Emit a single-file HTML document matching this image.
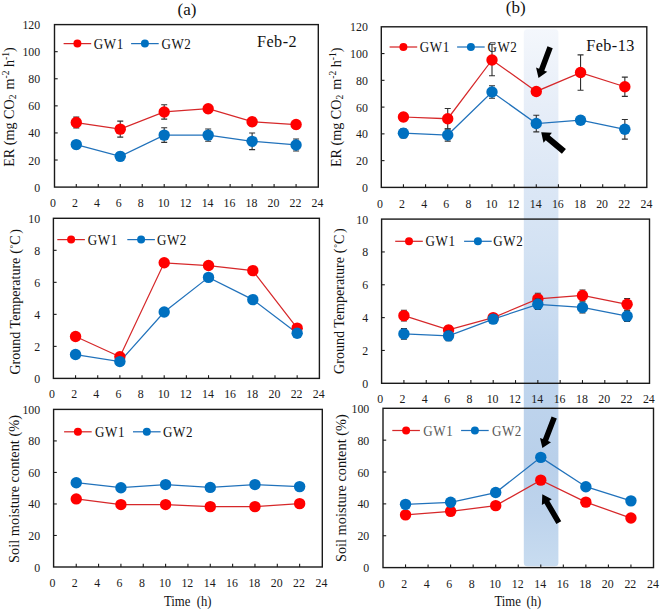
<!DOCTYPE html>
<html><head><meta charset="utf-8"><title>Figure</title>
<style>html,body{margin:0;padding:0;background:#fff;}body{width:660px;height:611px;overflow:hidden;font-family:"Liberation Serif",serif;}svg{display:block;}</style>
</head><body>
<svg width="660" height="611" viewBox="0 0 660 611">
<defs><linearGradient id="bandg" x1="0" y1="29" x2="0" y2="566" gradientUnits="userSpaceOnUse">
<stop offset="0" stop-color="#f4f7fc"/>
<stop offset="0.14" stop-color="#e7eef8"/>
<stop offset="0.31" stop-color="#dae6f5"/>
<stop offset="0.41" stop-color="#d3e2f3"/>
<stop offset="0.6" stop-color="#c2d7ef"/>
<stop offset="0.8" stop-color="#b9d0ea"/>
<stop offset="0.9" stop-color="#bdd3ec"/>
<stop offset="1" stop-color="#c8dcf0"/>
</linearGradient></defs>
<rect width="660" height="611" fill="#fff"/>
<rect x="523.8" y="29.2" width="34.6" height="537" rx="3.5" ry="3.5" fill="url(#bandg)"/>
<rect x="54.50" y="24.60" width="263.80" height="162.50" fill="none" stroke="#1a1a1a" stroke-width="1.4"/>
<line x1="76.28" y1="187.10" x2="76.28" y2="183.90" stroke="#1a1a1a" stroke-width="1.1"/>
<line x1="98.26" y1="187.10" x2="98.26" y2="183.90" stroke="#1a1a1a" stroke-width="1.1"/>
<line x1="120.24" y1="187.10" x2="120.24" y2="183.90" stroke="#1a1a1a" stroke-width="1.1"/>
<line x1="142.22" y1="187.10" x2="142.22" y2="183.90" stroke="#1a1a1a" stroke-width="1.1"/>
<line x1="164.20" y1="187.10" x2="164.20" y2="183.90" stroke="#1a1a1a" stroke-width="1.1"/>
<line x1="186.18" y1="187.10" x2="186.18" y2="183.90" stroke="#1a1a1a" stroke-width="1.1"/>
<line x1="208.16" y1="187.10" x2="208.16" y2="183.90" stroke="#1a1a1a" stroke-width="1.1"/>
<line x1="230.14" y1="187.10" x2="230.14" y2="183.90" stroke="#1a1a1a" stroke-width="1.1"/>
<line x1="252.12" y1="187.10" x2="252.12" y2="183.90" stroke="#1a1a1a" stroke-width="1.1"/>
<line x1="274.10" y1="187.10" x2="274.10" y2="183.90" stroke="#1a1a1a" stroke-width="1.1"/>
<line x1="296.08" y1="187.10" x2="296.08" y2="183.90" stroke="#1a1a1a" stroke-width="1.1"/>
<line x1="54.50" y1="160.02" x2="57.70" y2="160.02" stroke="#1a1a1a" stroke-width="1.1"/>
<line x1="54.50" y1="132.93" x2="57.70" y2="132.93" stroke="#1a1a1a" stroke-width="1.1"/>
<line x1="54.50" y1="105.85" x2="57.70" y2="105.85" stroke="#1a1a1a" stroke-width="1.1"/>
<line x1="54.50" y1="78.77" x2="57.70" y2="78.77" stroke="#1a1a1a" stroke-width="1.1"/>
<line x1="54.50" y1="51.68" x2="57.70" y2="51.68" stroke="#1a1a1a" stroke-width="1.1"/>
<text transform="translate(52.90 207.20) scale(0.900 1)" font-size="13.20" text-anchor="middle" font-family='"Liberation Serif", serif' fill="#1a1a1a">0</text>
<text transform="translate(74.88 207.20) scale(0.900 1)" font-size="13.20" text-anchor="middle" font-family='"Liberation Serif", serif' fill="#1a1a1a">2</text>
<text transform="translate(96.86 207.20) scale(0.900 1)" font-size="13.20" text-anchor="middle" font-family='"Liberation Serif", serif' fill="#1a1a1a">4</text>
<text transform="translate(118.84 207.20) scale(0.900 1)" font-size="13.20" text-anchor="middle" font-family='"Liberation Serif", serif' fill="#1a1a1a">6</text>
<text transform="translate(140.82 207.20) scale(0.900 1)" font-size="13.20" text-anchor="middle" font-family='"Liberation Serif", serif' fill="#1a1a1a">8</text>
<text transform="translate(163.60 207.20) scale(0.900 1)" font-size="13.20" text-anchor="middle" font-family='"Liberation Serif", serif' fill="#1a1a1a">10</text>
<text transform="translate(185.58 207.20) scale(0.900 1)" font-size="13.20" text-anchor="middle" font-family='"Liberation Serif", serif' fill="#1a1a1a">12</text>
<text transform="translate(207.56 207.20) scale(0.900 1)" font-size="13.20" text-anchor="middle" font-family='"Liberation Serif", serif' fill="#1a1a1a">14</text>
<text transform="translate(229.54 207.20) scale(0.900 1)" font-size="13.20" text-anchor="middle" font-family='"Liberation Serif", serif' fill="#1a1a1a">16</text>
<text transform="translate(251.52 207.20) scale(0.900 1)" font-size="13.20" text-anchor="middle" font-family='"Liberation Serif", serif' fill="#1a1a1a">18</text>
<text transform="translate(273.50 207.20) scale(0.900 1)" font-size="13.20" text-anchor="middle" font-family='"Liberation Serif", serif' fill="#1a1a1a">20</text>
<text transform="translate(295.48 207.20) scale(0.900 1)" font-size="13.20" text-anchor="middle" font-family='"Liberation Serif", serif' fill="#1a1a1a">22</text>
<text transform="translate(317.46 207.20) scale(0.900 1)" font-size="13.20" text-anchor="middle" font-family='"Liberation Serif", serif' fill="#1a1a1a">24</text>
<text transform="translate(40.20 191.60) scale(0.900 1)" font-size="13.20" text-anchor="end" font-family='"Liberation Serif", serif' fill="#1a1a1a">0</text>
<text transform="translate(40.20 164.52) scale(0.900 1)" font-size="13.20" text-anchor="end" font-family='"Liberation Serif", serif' fill="#1a1a1a">20</text>
<text transform="translate(40.20 137.43) scale(0.900 1)" font-size="13.20" text-anchor="end" font-family='"Liberation Serif", serif' fill="#1a1a1a">40</text>
<text transform="translate(40.20 110.35) scale(0.900 1)" font-size="13.20" text-anchor="end" font-family='"Liberation Serif", serif' fill="#1a1a1a">60</text>
<text transform="translate(40.20 83.27) scale(0.900 1)" font-size="13.20" text-anchor="end" font-family='"Liberation Serif", serif' fill="#1a1a1a">80</text>
<text transform="translate(40.20 56.18) scale(0.900 1)" font-size="13.20" text-anchor="end" font-family='"Liberation Serif", serif' fill="#1a1a1a">100</text>
<text transform="translate(40.20 29.10) scale(0.900 1)" font-size="13.20" text-anchor="end" font-family='"Liberation Serif", serif' fill="#1a1a1a">120</text>
<polyline fill="none" stroke="#d6282a" stroke-width="1.25" points="76.28,122.51 120.24,129.14 164.20,111.94 208.16,108.69 252.12,121.69 296.08,124.54"/>
<polyline fill="none" stroke="#2172bb" stroke-width="1.25" points="76.28,144.58 120.24,156.36 164.20,135.10 208.16,135.10 252.12,141.33 296.08,144.99"/>
<path d="M76.28 117.09V127.92M73.28 117.09H79.28M73.28 127.92H79.28" stroke="#303030" stroke-width="1.1" fill="none"/>
<path d="M120.24 121.15V137.13M117.24 121.15H123.24M117.24 137.13H123.24" stroke="#303030" stroke-width="1.1" fill="none"/>
<path d="M164.20 104.77V119.12M161.20 104.77H167.20M161.20 119.12H167.20" stroke="#303030" stroke-width="1.1" fill="none"/>
<path d="M208.16 104.63V112.76M205.16 104.63H211.16M205.16 112.76H211.16" stroke="#303030" stroke-width="1.1" fill="none"/>
<path d="M252.12 117.63V125.76M249.12 117.63H255.12M249.12 125.76H255.12" stroke="#303030" stroke-width="1.1" fill="none"/>
<path d="M296.08 120.47V128.60M293.08 120.47H299.08M293.08 128.60H299.08" stroke="#303030" stroke-width="1.1" fill="none"/>
<circle cx="76.28" cy="122.51" r="5.7" fill="#ff0000"/>
<circle cx="120.24" cy="129.14" r="5.7" fill="#ff0000"/>
<circle cx="164.20" cy="111.94" r="5.7" fill="#ff0000"/>
<circle cx="208.16" cy="108.69" r="5.7" fill="#ff0000"/>
<circle cx="252.12" cy="121.69" r="5.7" fill="#ff0000"/>
<circle cx="296.08" cy="124.54" r="5.7" fill="#ff0000"/>
<path d="M76.28 140.52V148.64M73.28 140.52H79.28M73.28 148.64H79.28" stroke="#303030" stroke-width="1.1" fill="none"/>
<path d="M120.24 152.30V160.42M117.24 152.30H123.24M117.24 160.42H123.24" stroke="#303030" stroke-width="1.1" fill="none"/>
<path d="M164.20 127.79V142.41M161.20 127.79H167.20M161.20 142.41H167.20" stroke="#303030" stroke-width="1.1" fill="none"/>
<path d="M208.16 129.01V141.19M205.16 129.01H211.16M205.16 141.19H211.16" stroke="#303030" stroke-width="1.1" fill="none"/>
<path d="M252.12 133.07V149.59M249.12 133.07H255.12M249.12 149.59H255.12" stroke="#303030" stroke-width="1.1" fill="none"/>
<path d="M296.08 139.03V150.94M293.08 139.03H299.08M293.08 150.94H299.08" stroke="#303030" stroke-width="1.1" fill="none"/>
<circle cx="76.28" cy="144.58" r="5.7" fill="#0070c0"/>
<circle cx="120.24" cy="156.36" r="5.7" fill="#0070c0"/>
<circle cx="164.20" cy="135.10" r="5.7" fill="#0070c0"/>
<circle cx="208.16" cy="135.10" r="5.7" fill="#0070c0"/>
<circle cx="252.12" cy="141.33" r="5.7" fill="#0070c0"/>
<circle cx="296.08" cy="144.99" r="5.7" fill="#0070c0"/>
<line x1="63.60" y1="43.60" x2="91.20" y2="43.60" stroke="#d6282a" stroke-width="1.25"/>
<circle cx="77.40" cy="43.60" r="4" fill="#ff0000"/>
<text transform="translate(93.70 48.60) scale(0.880 1)" font-size="14.8" letter-spacing="0.7" font-family='"Liberation Serif", serif' fill="#111">GW1</text>
<line x1="131.10" y1="43.60" x2="158.70" y2="43.60" stroke="#2172bb" stroke-width="1.25"/>
<circle cx="144.90" cy="43.60" r="4" fill="#0070c0"/>
<text transform="translate(161.40 48.60) scale(0.880 1)" font-size="14.8" letter-spacing="0.7" font-family='"Liberation Serif", serif' fill="#111">GW2</text>
<text x="257.00" y="47.20" font-size="16.2" letter-spacing="0.45" font-family='"Liberation Serif", serif' fill="#111">Feb-2</text>
<rect x="381.30" y="26.80" width="265.50" height="160.60" fill="none" stroke="#1a1a1a" stroke-width="1.4"/>
<line x1="403.44" y1="187.40" x2="403.44" y2="184.20" stroke="#1a1a1a" stroke-width="1.1"/>
<line x1="425.58" y1="187.40" x2="425.58" y2="184.20" stroke="#1a1a1a" stroke-width="1.1"/>
<line x1="447.72" y1="187.40" x2="447.72" y2="184.20" stroke="#1a1a1a" stroke-width="1.1"/>
<line x1="469.86" y1="187.40" x2="469.86" y2="184.20" stroke="#1a1a1a" stroke-width="1.1"/>
<line x1="492.00" y1="187.40" x2="492.00" y2="184.20" stroke="#1a1a1a" stroke-width="1.1"/>
<line x1="514.14" y1="187.40" x2="514.14" y2="184.20" stroke="#1a1a1a" stroke-width="1.1"/>
<line x1="536.28" y1="187.40" x2="536.28" y2="184.20" stroke="#1a1a1a" stroke-width="1.1"/>
<line x1="558.42" y1="187.40" x2="558.42" y2="184.20" stroke="#1a1a1a" stroke-width="1.1"/>
<line x1="580.56" y1="187.40" x2="580.56" y2="184.20" stroke="#1a1a1a" stroke-width="1.1"/>
<line x1="602.70" y1="187.40" x2="602.70" y2="184.20" stroke="#1a1a1a" stroke-width="1.1"/>
<line x1="624.84" y1="187.40" x2="624.84" y2="184.20" stroke="#1a1a1a" stroke-width="1.1"/>
<line x1="381.30" y1="160.63" x2="384.50" y2="160.63" stroke="#1a1a1a" stroke-width="1.1"/>
<line x1="381.30" y1="133.87" x2="384.50" y2="133.87" stroke="#1a1a1a" stroke-width="1.1"/>
<line x1="381.30" y1="107.10" x2="384.50" y2="107.10" stroke="#1a1a1a" stroke-width="1.1"/>
<line x1="381.30" y1="80.33" x2="384.50" y2="80.33" stroke="#1a1a1a" stroke-width="1.1"/>
<line x1="381.30" y1="53.57" x2="384.50" y2="53.57" stroke="#1a1a1a" stroke-width="1.1"/>
<text transform="translate(379.90 207.60) scale(0.900 1)" font-size="13.20" text-anchor="middle" font-family='"Liberation Serif", serif' fill="#1a1a1a">0</text>
<text transform="translate(402.04 207.60) scale(0.900 1)" font-size="13.20" text-anchor="middle" font-family='"Liberation Serif", serif' fill="#1a1a1a">2</text>
<text transform="translate(424.18 207.60) scale(0.900 1)" font-size="13.20" text-anchor="middle" font-family='"Liberation Serif", serif' fill="#1a1a1a">4</text>
<text transform="translate(446.32 207.60) scale(0.900 1)" font-size="13.20" text-anchor="middle" font-family='"Liberation Serif", serif' fill="#1a1a1a">6</text>
<text transform="translate(468.46 207.60) scale(0.900 1)" font-size="13.20" text-anchor="middle" font-family='"Liberation Serif", serif' fill="#1a1a1a">8</text>
<text transform="translate(491.40 207.60) scale(0.900 1)" font-size="13.20" text-anchor="middle" font-family='"Liberation Serif", serif' fill="#1a1a1a">10</text>
<text transform="translate(513.54 207.60) scale(0.900 1)" font-size="13.20" text-anchor="middle" font-family='"Liberation Serif", serif' fill="#1a1a1a">12</text>
<text transform="translate(535.68 207.60) scale(0.900 1)" font-size="13.20" text-anchor="middle" font-family='"Liberation Serif", serif' fill="#1a1a1a">14</text>
<text transform="translate(557.82 207.60) scale(0.900 1)" font-size="13.20" text-anchor="middle" font-family='"Liberation Serif", serif' fill="#1a1a1a">16</text>
<text transform="translate(579.96 207.60) scale(0.900 1)" font-size="13.20" text-anchor="middle" font-family='"Liberation Serif", serif' fill="#1a1a1a">18</text>
<text transform="translate(602.10 207.60) scale(0.900 1)" font-size="13.20" text-anchor="middle" font-family='"Liberation Serif", serif' fill="#1a1a1a">20</text>
<text transform="translate(624.24 207.60) scale(0.900 1)" font-size="13.20" text-anchor="middle" font-family='"Liberation Serif", serif' fill="#1a1a1a">22</text>
<text transform="translate(646.38 207.60) scale(0.900 1)" font-size="13.20" text-anchor="middle" font-family='"Liberation Serif", serif' fill="#1a1a1a">24</text>
<text transform="translate(367.90 191.90) scale(0.900 1)" font-size="13.20" text-anchor="end" font-family='"Liberation Serif", serif' fill="#1a1a1a">0</text>
<text transform="translate(367.90 165.13) scale(0.900 1)" font-size="13.20" text-anchor="end" font-family='"Liberation Serif", serif' fill="#1a1a1a">20</text>
<text transform="translate(367.90 138.37) scale(0.900 1)" font-size="13.20" text-anchor="end" font-family='"Liberation Serif", serif' fill="#1a1a1a">40</text>
<text transform="translate(367.90 111.60) scale(0.900 1)" font-size="13.20" text-anchor="end" font-family='"Liberation Serif", serif' fill="#1a1a1a">60</text>
<text transform="translate(367.90 84.83) scale(0.900 1)" font-size="13.20" text-anchor="end" font-family='"Liberation Serif", serif' fill="#1a1a1a">80</text>
<text transform="translate(367.90 58.07) scale(0.900 1)" font-size="13.20" text-anchor="end" font-family='"Liberation Serif", serif' fill="#1a1a1a">100</text>
<text transform="translate(367.90 31.30) scale(0.900 1)" font-size="13.20" text-anchor="end" font-family='"Liberation Serif", serif' fill="#1a1a1a">120</text>
<polyline fill="none" stroke="#d6282a" stroke-width="1.25" points="403.44,117.00 447.72,118.74 492.00,59.99 536.28,91.44 580.56,72.57 624.84,86.76"/>
<polyline fill="none" stroke="#2172bb" stroke-width="1.25" points="403.44,133.20 447.72,135.07 492.00,91.98 536.28,123.56 580.56,120.22 624.84,129.32"/>
<path d="M403.44 112.99V121.02M400.44 112.99H406.44M400.44 121.02H406.44" stroke="#303030" stroke-width="1.1" fill="none"/>
<path d="M447.72 108.57V128.91M444.72 108.57H450.72M444.72 128.91H450.72" stroke="#303030" stroke-width="1.1" fill="none"/>
<path d="M492.00 44.20V75.78M489.00 44.20H495.00M489.00 75.78H495.00" stroke="#303030" stroke-width="1.1" fill="none"/>
<path d="M536.28 87.43V95.46M533.28 87.43H539.28M533.28 95.46H539.28" stroke="#303030" stroke-width="1.1" fill="none"/>
<path d="M580.56 54.91V90.24M577.56 54.91H583.56M577.56 90.24H583.56" stroke="#303030" stroke-width="1.1" fill="none"/>
<path d="M624.84 77.12V96.39M621.84 77.12H627.84M621.84 96.39H627.84" stroke="#303030" stroke-width="1.1" fill="none"/>
<circle cx="403.44" cy="117.00" r="5.7" fill="#ff0000"/>
<circle cx="447.72" cy="118.74" r="5.7" fill="#ff0000"/>
<circle cx="492.00" cy="59.99" r="5.7" fill="#ff0000"/>
<circle cx="536.28" cy="91.44" r="5.7" fill="#ff0000"/>
<circle cx="580.56" cy="72.57" r="5.7" fill="#ff0000"/>
<circle cx="624.84" cy="86.76" r="5.7" fill="#ff0000"/>
<path d="M403.44 128.51V137.88M400.44 128.51H406.44M400.44 137.88H406.44" stroke="#303030" stroke-width="1.1" fill="none"/>
<path d="M447.72 129.05V141.09M444.72 129.05H450.72M444.72 141.09H450.72" stroke="#303030" stroke-width="1.1" fill="none"/>
<path d="M492.00 85.69V98.27M489.00 85.69H495.00M489.00 98.27H495.00" stroke="#303030" stroke-width="1.1" fill="none"/>
<path d="M536.28 115.26V131.86M533.28 115.26H539.28M533.28 131.86H539.28" stroke="#303030" stroke-width="1.1" fill="none"/>
<path d="M580.56 116.20V124.23M577.56 116.20H583.56M577.56 124.23H583.56" stroke="#303030" stroke-width="1.1" fill="none"/>
<path d="M624.84 119.55V139.09M621.84 119.55H627.84M621.84 139.09H627.84" stroke="#303030" stroke-width="1.1" fill="none"/>
<circle cx="403.44" cy="133.20" r="5.7" fill="#0070c0"/>
<circle cx="447.72" cy="135.07" r="5.7" fill="#0070c0"/>
<circle cx="492.00" cy="91.98" r="5.7" fill="#0070c0"/>
<circle cx="536.28" cy="123.56" r="5.7" fill="#0070c0"/>
<circle cx="580.56" cy="120.22" r="5.7" fill="#0070c0"/>
<circle cx="624.84" cy="129.32" r="5.7" fill="#0070c0"/>
<line x1="389.60" y1="47.00" x2="417.20" y2="47.00" stroke="#d6282a" stroke-width="1.25"/>
<circle cx="403.40" cy="47.00" r="4" fill="#ff0000"/>
<text transform="translate(419.70 52.00) scale(0.880 1)" font-size="14.8" letter-spacing="0.7" font-family='"Liberation Serif", serif' fill="#111">GW1</text>
<line x1="457.10" y1="47.00" x2="484.70" y2="47.00" stroke="#2172bb" stroke-width="1.25"/>
<circle cx="470.90" cy="47.00" r="4" fill="#0070c0"/>
<text transform="translate(487.40 52.00) scale(0.880 1)" font-size="14.8" letter-spacing="0.7" font-family='"Liberation Serif", serif' fill="#111">GW2</text>
<text x="586.20" y="50.50" font-size="16.2" letter-spacing="0.45" font-family='"Liberation Serif", serif' fill="#111">Feb-13</text>
<rect x="53.40" y="218.30" width="266.00" height="160.10" fill="none" stroke="#1a1a1a" stroke-width="1.4"/>
<line x1="75.56" y1="378.40" x2="75.56" y2="375.20" stroke="#1a1a1a" stroke-width="1.1"/>
<line x1="97.72" y1="378.40" x2="97.72" y2="375.20" stroke="#1a1a1a" stroke-width="1.1"/>
<line x1="119.88" y1="378.40" x2="119.88" y2="375.20" stroke="#1a1a1a" stroke-width="1.1"/>
<line x1="142.04" y1="378.40" x2="142.04" y2="375.20" stroke="#1a1a1a" stroke-width="1.1"/>
<line x1="164.20" y1="378.40" x2="164.20" y2="375.20" stroke="#1a1a1a" stroke-width="1.1"/>
<line x1="186.36" y1="378.40" x2="186.36" y2="375.20" stroke="#1a1a1a" stroke-width="1.1"/>
<line x1="208.52" y1="378.40" x2="208.52" y2="375.20" stroke="#1a1a1a" stroke-width="1.1"/>
<line x1="230.68" y1="378.40" x2="230.68" y2="375.20" stroke="#1a1a1a" stroke-width="1.1"/>
<line x1="252.84" y1="378.40" x2="252.84" y2="375.20" stroke="#1a1a1a" stroke-width="1.1"/>
<line x1="275.00" y1="378.40" x2="275.00" y2="375.20" stroke="#1a1a1a" stroke-width="1.1"/>
<line x1="297.16" y1="378.40" x2="297.16" y2="375.20" stroke="#1a1a1a" stroke-width="1.1"/>
<line x1="53.40" y1="346.38" x2="56.60" y2="346.38" stroke="#1a1a1a" stroke-width="1.1"/>
<line x1="53.40" y1="314.36" x2="56.60" y2="314.36" stroke="#1a1a1a" stroke-width="1.1"/>
<line x1="53.40" y1="282.34" x2="56.60" y2="282.34" stroke="#1a1a1a" stroke-width="1.1"/>
<line x1="53.40" y1="250.32" x2="56.60" y2="250.32" stroke="#1a1a1a" stroke-width="1.1"/>
<text transform="translate(52.00 397.90) scale(0.900 1)" font-size="13.20" text-anchor="middle" font-family='"Liberation Serif", serif' fill="#1a1a1a">0</text>
<text transform="translate(74.16 397.90) scale(0.900 1)" font-size="13.20" text-anchor="middle" font-family='"Liberation Serif", serif' fill="#1a1a1a">2</text>
<text transform="translate(96.32 397.90) scale(0.900 1)" font-size="13.20" text-anchor="middle" font-family='"Liberation Serif", serif' fill="#1a1a1a">4</text>
<text transform="translate(118.48 397.90) scale(0.900 1)" font-size="13.20" text-anchor="middle" font-family='"Liberation Serif", serif' fill="#1a1a1a">6</text>
<text transform="translate(140.64 397.90) scale(0.900 1)" font-size="13.20" text-anchor="middle" font-family='"Liberation Serif", serif' fill="#1a1a1a">8</text>
<text transform="translate(163.60 397.90) scale(0.900 1)" font-size="13.20" text-anchor="middle" font-family='"Liberation Serif", serif' fill="#1a1a1a">10</text>
<text transform="translate(185.76 397.90) scale(0.900 1)" font-size="13.20" text-anchor="middle" font-family='"Liberation Serif", serif' fill="#1a1a1a">12</text>
<text transform="translate(207.92 397.90) scale(0.900 1)" font-size="13.20" text-anchor="middle" font-family='"Liberation Serif", serif' fill="#1a1a1a">14</text>
<text transform="translate(230.08 397.90) scale(0.900 1)" font-size="13.20" text-anchor="middle" font-family='"Liberation Serif", serif' fill="#1a1a1a">16</text>
<text transform="translate(252.24 397.90) scale(0.900 1)" font-size="13.20" text-anchor="middle" font-family='"Liberation Serif", serif' fill="#1a1a1a">18</text>
<text transform="translate(274.40 397.90) scale(0.900 1)" font-size="13.20" text-anchor="middle" font-family='"Liberation Serif", serif' fill="#1a1a1a">20</text>
<text transform="translate(296.56 397.90) scale(0.900 1)" font-size="13.20" text-anchor="middle" font-family='"Liberation Serif", serif' fill="#1a1a1a">22</text>
<text transform="translate(318.72 397.90) scale(0.900 1)" font-size="13.20" text-anchor="middle" font-family='"Liberation Serif", serif' fill="#1a1a1a">24</text>
<text transform="translate(40.20 382.90) scale(0.900 1)" font-size="13.20" text-anchor="end" font-family='"Liberation Serif", serif' fill="#1a1a1a">0</text>
<text transform="translate(40.20 350.88) scale(0.900 1)" font-size="13.20" text-anchor="end" font-family='"Liberation Serif", serif' fill="#1a1a1a">2</text>
<text transform="translate(40.20 318.86) scale(0.900 1)" font-size="13.20" text-anchor="end" font-family='"Liberation Serif", serif' fill="#1a1a1a">4</text>
<text transform="translate(40.20 286.84) scale(0.900 1)" font-size="13.20" text-anchor="end" font-family='"Liberation Serif", serif' fill="#1a1a1a">6</text>
<text transform="translate(40.20 254.82) scale(0.900 1)" font-size="13.20" text-anchor="end" font-family='"Liberation Serif", serif' fill="#1a1a1a">8</text>
<text transform="translate(40.20 222.80) scale(0.900 1)" font-size="13.20" text-anchor="end" font-family='"Liberation Serif", serif' fill="#1a1a1a">10</text>
<polyline fill="none" stroke="#d6282a" stroke-width="1.25" points="75.56,336.45 119.88,356.79 164.20,262.81 208.52,265.53 252.84,270.65 297.16,328.13"/>
<polyline fill="none" stroke="#2172bb" stroke-width="1.25" points="75.56,354.55 119.88,361.59 164.20,311.96 208.52,277.38 252.84,299.63 297.16,333.25"/>
<circle cx="75.56" cy="336.45" r="5.7" fill="#ff0000"/>
<circle cx="119.88" cy="356.79" r="5.7" fill="#ff0000"/>
<circle cx="164.20" cy="262.81" r="5.7" fill="#ff0000"/>
<circle cx="208.52" cy="265.53" r="5.7" fill="#ff0000"/>
<circle cx="252.84" cy="270.65" r="5.7" fill="#ff0000"/>
<circle cx="297.16" cy="328.13" r="5.7" fill="#ff0000"/>
<circle cx="75.56" cy="354.55" r="5.7" fill="#0070c0"/>
<circle cx="119.88" cy="361.59" r="5.7" fill="#0070c0"/>
<circle cx="164.20" cy="311.96" r="5.7" fill="#0070c0"/>
<circle cx="208.52" cy="277.38" r="5.7" fill="#0070c0"/>
<circle cx="252.84" cy="299.63" r="5.7" fill="#0070c0"/>
<circle cx="297.16" cy="333.25" r="5.7" fill="#0070c0"/>
<line x1="57.30" y1="239.60" x2="84.90" y2="239.60" stroke="#d6282a" stroke-width="1.25"/>
<circle cx="71.10" cy="239.60" r="4" fill="#ff0000"/>
<text transform="translate(87.80 244.60) scale(0.880 1)" font-size="14.8" letter-spacing="0.7" font-family='"Liberation Serif", serif' fill="#111">GW1</text>
<line x1="127.30" y1="239.60" x2="154.90" y2="239.60" stroke="#2172bb" stroke-width="1.25"/>
<circle cx="141.10" cy="239.60" r="4" fill="#0070c0"/>
<text transform="translate(156.90 244.60) scale(0.880 1)" font-size="14.8" letter-spacing="0.7" font-family='"Liberation Serif", serif' fill="#111">GW2</text>
<rect x="381.60" y="219.10" width="267.90" height="164.20" fill="none" stroke="#1a1a1a" stroke-width="1.4"/>
<line x1="403.92" y1="383.30" x2="403.92" y2="380.10" stroke="#1a1a1a" stroke-width="1.1"/>
<line x1="426.24" y1="383.30" x2="426.24" y2="380.10" stroke="#1a1a1a" stroke-width="1.1"/>
<line x1="448.56" y1="383.30" x2="448.56" y2="380.10" stroke="#1a1a1a" stroke-width="1.1"/>
<line x1="470.88" y1="383.30" x2="470.88" y2="380.10" stroke="#1a1a1a" stroke-width="1.1"/>
<line x1="493.20" y1="383.30" x2="493.20" y2="380.10" stroke="#1a1a1a" stroke-width="1.1"/>
<line x1="515.52" y1="383.30" x2="515.52" y2="380.10" stroke="#1a1a1a" stroke-width="1.1"/>
<line x1="537.84" y1="383.30" x2="537.84" y2="380.10" stroke="#1a1a1a" stroke-width="1.1"/>
<line x1="560.16" y1="383.30" x2="560.16" y2="380.10" stroke="#1a1a1a" stroke-width="1.1"/>
<line x1="582.48" y1="383.30" x2="582.48" y2="380.10" stroke="#1a1a1a" stroke-width="1.1"/>
<line x1="604.80" y1="383.30" x2="604.80" y2="380.10" stroke="#1a1a1a" stroke-width="1.1"/>
<line x1="627.12" y1="383.30" x2="627.12" y2="380.10" stroke="#1a1a1a" stroke-width="1.1"/>
<line x1="381.60" y1="350.46" x2="384.80" y2="350.46" stroke="#1a1a1a" stroke-width="1.1"/>
<line x1="381.60" y1="317.62" x2="384.80" y2="317.62" stroke="#1a1a1a" stroke-width="1.1"/>
<line x1="381.60" y1="284.78" x2="384.80" y2="284.78" stroke="#1a1a1a" stroke-width="1.1"/>
<line x1="381.60" y1="251.94" x2="384.80" y2="251.94" stroke="#1a1a1a" stroke-width="1.1"/>
<text transform="translate(380.20 403.40) scale(0.900 1)" font-size="13.20" text-anchor="middle" font-family='"Liberation Serif", serif' fill="#1a1a1a">0</text>
<text transform="translate(402.52 403.40) scale(0.900 1)" font-size="13.20" text-anchor="middle" font-family='"Liberation Serif", serif' fill="#1a1a1a">2</text>
<text transform="translate(424.84 403.40) scale(0.900 1)" font-size="13.20" text-anchor="middle" font-family='"Liberation Serif", serif' fill="#1a1a1a">4</text>
<text transform="translate(447.16 403.40) scale(0.900 1)" font-size="13.20" text-anchor="middle" font-family='"Liberation Serif", serif' fill="#1a1a1a">6</text>
<text transform="translate(469.48 403.40) scale(0.900 1)" font-size="13.20" text-anchor="middle" font-family='"Liberation Serif", serif' fill="#1a1a1a">8</text>
<text transform="translate(492.60 403.40) scale(0.900 1)" font-size="13.20" text-anchor="middle" font-family='"Liberation Serif", serif' fill="#1a1a1a">10</text>
<text transform="translate(514.92 403.40) scale(0.900 1)" font-size="13.20" text-anchor="middle" font-family='"Liberation Serif", serif' fill="#1a1a1a">12</text>
<text transform="translate(537.24 403.40) scale(0.900 1)" font-size="13.20" text-anchor="middle" font-family='"Liberation Serif", serif' fill="#1a1a1a">14</text>
<text transform="translate(559.56 403.40) scale(0.900 1)" font-size="13.20" text-anchor="middle" font-family='"Liberation Serif", serif' fill="#1a1a1a">16</text>
<text transform="translate(581.88 403.40) scale(0.900 1)" font-size="13.20" text-anchor="middle" font-family='"Liberation Serif", serif' fill="#1a1a1a">18</text>
<text transform="translate(604.20 403.40) scale(0.900 1)" font-size="13.20" text-anchor="middle" font-family='"Liberation Serif", serif' fill="#1a1a1a">20</text>
<text transform="translate(626.52 403.40) scale(0.900 1)" font-size="13.20" text-anchor="middle" font-family='"Liberation Serif", serif' fill="#1a1a1a">22</text>
<text transform="translate(648.84 403.40) scale(0.900 1)" font-size="13.20" text-anchor="middle" font-family='"Liberation Serif", serif' fill="#1a1a1a">24</text>
<text transform="translate(368.10 387.80) scale(0.900 1)" font-size="13.20" text-anchor="end" font-family='"Liberation Serif", serif' fill="#1a1a1a">0</text>
<text transform="translate(368.10 354.96) scale(0.900 1)" font-size="13.20" text-anchor="end" font-family='"Liberation Serif", serif' fill="#1a1a1a">2</text>
<text transform="translate(368.10 322.12) scale(0.900 1)" font-size="13.20" text-anchor="end" font-family='"Liberation Serif", serif' fill="#1a1a1a">4</text>
<text transform="translate(368.10 289.28) scale(0.900 1)" font-size="13.20" text-anchor="end" font-family='"Liberation Serif", serif' fill="#1a1a1a">6</text>
<text transform="translate(368.10 256.44) scale(0.900 1)" font-size="13.20" text-anchor="end" font-family='"Liberation Serif", serif' fill="#1a1a1a">8</text>
<text transform="translate(368.10 223.60) scale(0.900 1)" font-size="13.20" text-anchor="end" font-family='"Liberation Serif", serif' fill="#1a1a1a">10</text>
<polyline fill="none" stroke="#d6282a" stroke-width="1.25" points="403.92,315.65 448.56,329.94 493.20,317.62 537.84,298.90 582.48,295.45 627.12,304.32"/>
<polyline fill="none" stroke="#2172bb" stroke-width="1.25" points="403.92,333.88 448.56,335.85 493.20,319.10 537.84,304.32 582.48,307.44 627.12,316.14"/>
<path d="M403.92 310.23V321.07M400.92 310.23H406.92M400.92 321.07H406.92" stroke="#303030" stroke-width="1.1" fill="none"/>
<path d="M448.56 325.83V334.04M445.56 325.83H451.56M445.56 334.04H451.56" stroke="#303030" stroke-width="1.1" fill="none"/>
<path d="M493.20 314.34V320.90M490.20 314.34H496.20M490.20 320.90H496.20" stroke="#303030" stroke-width="1.1" fill="none"/>
<path d="M537.84 293.32V304.48M534.84 293.32H540.84M534.84 304.48H540.84" stroke="#303030" stroke-width="1.1" fill="none"/>
<path d="M582.48 290.03V300.87M579.48 290.03H585.48M579.48 300.87H585.48" stroke="#303030" stroke-width="1.1" fill="none"/>
<path d="M627.12 298.57V310.07M624.12 298.57H630.12M624.12 310.07H630.12" stroke="#303030" stroke-width="1.1" fill="none"/>
<circle cx="403.92" cy="315.65" r="5.7" fill="#ff0000"/>
<circle cx="448.56" cy="329.94" r="5.7" fill="#ff0000"/>
<circle cx="493.20" cy="317.62" r="5.7" fill="#ff0000"/>
<circle cx="537.84" cy="298.90" r="5.7" fill="#ff0000"/>
<circle cx="582.48" cy="295.45" r="5.7" fill="#ff0000"/>
<circle cx="627.12" cy="304.32" r="5.7" fill="#ff0000"/>
<path d="M403.92 328.46V339.29M400.92 328.46H406.92M400.92 339.29H406.92" stroke="#303030" stroke-width="1.1" fill="none"/>
<path d="M448.56 331.08V340.61M445.56 331.08H451.56M445.56 340.61H451.56" stroke="#303030" stroke-width="1.1" fill="none"/>
<path d="M493.20 315.81V322.38M490.20 315.81H496.20M490.20 322.38H496.20" stroke="#303030" stroke-width="1.1" fill="none"/>
<path d="M537.84 299.07V309.57M534.84 299.07H540.84M534.84 309.57H540.84" stroke="#303030" stroke-width="1.1" fill="none"/>
<path d="M582.48 302.02V312.86M579.48 302.02H585.48M579.48 312.86H585.48" stroke="#303030" stroke-width="1.1" fill="none"/>
<path d="M627.12 310.89V321.40M624.12 310.89H630.12M624.12 321.40H630.12" stroke="#303030" stroke-width="1.1" fill="none"/>
<circle cx="403.92" cy="333.88" r="5.7" fill="#0070c0"/>
<circle cx="448.56" cy="335.85" r="5.7" fill="#0070c0"/>
<circle cx="493.20" cy="319.10" r="5.7" fill="#0070c0"/>
<circle cx="537.84" cy="304.32" r="5.7" fill="#0070c0"/>
<circle cx="582.48" cy="307.44" r="5.7" fill="#0070c0"/>
<circle cx="627.12" cy="316.14" r="5.7" fill="#0070c0"/>
<line x1="395.20" y1="241.30" x2="422.80" y2="241.30" stroke="#d6282a" stroke-width="1.25"/>
<circle cx="409.00" cy="241.30" r="4" fill="#ff0000"/>
<text transform="translate(425.50 246.30) scale(0.880 1)" font-size="14.8" letter-spacing="0.7" font-family='"Liberation Serif", serif' fill="#111">GW1</text>
<line x1="464.10" y1="241.30" x2="491.70" y2="241.30" stroke="#2172bb" stroke-width="1.25"/>
<circle cx="477.90" cy="241.30" r="4" fill="#0070c0"/>
<text transform="translate(493.20 246.30) scale(0.880 1)" font-size="14.8" letter-spacing="0.7" font-family='"Liberation Serif", serif' fill="#111">GW2</text>
<rect x="53.60" y="409.40" width="268.70" height="157.60" fill="none" stroke="#1a1a1a" stroke-width="1.4"/>
<line x1="76.24" y1="567.00" x2="76.24" y2="563.80" stroke="#1a1a1a" stroke-width="1.1"/>
<line x1="98.58" y1="567.00" x2="98.58" y2="563.80" stroke="#1a1a1a" stroke-width="1.1"/>
<line x1="120.92" y1="567.00" x2="120.92" y2="563.80" stroke="#1a1a1a" stroke-width="1.1"/>
<line x1="143.26" y1="567.00" x2="143.26" y2="563.80" stroke="#1a1a1a" stroke-width="1.1"/>
<line x1="165.60" y1="567.00" x2="165.60" y2="563.80" stroke="#1a1a1a" stroke-width="1.1"/>
<line x1="187.94" y1="567.00" x2="187.94" y2="563.80" stroke="#1a1a1a" stroke-width="1.1"/>
<line x1="210.28" y1="567.00" x2="210.28" y2="563.80" stroke="#1a1a1a" stroke-width="1.1"/>
<line x1="232.62" y1="567.00" x2="232.62" y2="563.80" stroke="#1a1a1a" stroke-width="1.1"/>
<line x1="254.96" y1="567.00" x2="254.96" y2="563.80" stroke="#1a1a1a" stroke-width="1.1"/>
<line x1="277.30" y1="567.00" x2="277.30" y2="563.80" stroke="#1a1a1a" stroke-width="1.1"/>
<line x1="299.64" y1="567.00" x2="299.64" y2="563.80" stroke="#1a1a1a" stroke-width="1.1"/>
<line x1="53.60" y1="535.48" x2="56.80" y2="535.48" stroke="#1a1a1a" stroke-width="1.1"/>
<line x1="53.60" y1="503.96" x2="56.80" y2="503.96" stroke="#1a1a1a" stroke-width="1.1"/>
<line x1="53.60" y1="472.44" x2="56.80" y2="472.44" stroke="#1a1a1a" stroke-width="1.1"/>
<line x1="53.60" y1="440.92" x2="56.80" y2="440.92" stroke="#1a1a1a" stroke-width="1.1"/>
<text transform="translate(52.50 586.60) scale(0.900 1)" font-size="13.20" text-anchor="middle" font-family='"Liberation Serif", serif' fill="#1a1a1a">0</text>
<text transform="translate(74.84 586.60) scale(0.900 1)" font-size="13.20" text-anchor="middle" font-family='"Liberation Serif", serif' fill="#1a1a1a">2</text>
<text transform="translate(97.18 586.60) scale(0.900 1)" font-size="13.20" text-anchor="middle" font-family='"Liberation Serif", serif' fill="#1a1a1a">4</text>
<text transform="translate(119.52 586.60) scale(0.900 1)" font-size="13.20" text-anchor="middle" font-family='"Liberation Serif", serif' fill="#1a1a1a">6</text>
<text transform="translate(141.86 586.60) scale(0.900 1)" font-size="13.20" text-anchor="middle" font-family='"Liberation Serif", serif' fill="#1a1a1a">8</text>
<text transform="translate(165.00 586.60) scale(0.900 1)" font-size="13.20" text-anchor="middle" font-family='"Liberation Serif", serif' fill="#1a1a1a">10</text>
<text transform="translate(187.34 586.60) scale(0.900 1)" font-size="13.20" text-anchor="middle" font-family='"Liberation Serif", serif' fill="#1a1a1a">12</text>
<text transform="translate(209.68 586.60) scale(0.900 1)" font-size="13.20" text-anchor="middle" font-family='"Liberation Serif", serif' fill="#1a1a1a">14</text>
<text transform="translate(232.02 586.60) scale(0.900 1)" font-size="13.20" text-anchor="middle" font-family='"Liberation Serif", serif' fill="#1a1a1a">16</text>
<text transform="translate(254.36 586.60) scale(0.900 1)" font-size="13.20" text-anchor="middle" font-family='"Liberation Serif", serif' fill="#1a1a1a">18</text>
<text transform="translate(276.70 586.60) scale(0.900 1)" font-size="13.20" text-anchor="middle" font-family='"Liberation Serif", serif' fill="#1a1a1a">20</text>
<text transform="translate(299.04 586.60) scale(0.900 1)" font-size="13.20" text-anchor="middle" font-family='"Liberation Serif", serif' fill="#1a1a1a">22</text>
<text transform="translate(321.38 586.60) scale(0.900 1)" font-size="13.20" text-anchor="middle" font-family='"Liberation Serif", serif' fill="#1a1a1a">24</text>
<text transform="translate(40.20 571.50) scale(0.900 1)" font-size="13.20" text-anchor="end" font-family='"Liberation Serif", serif' fill="#1a1a1a">0</text>
<text transform="translate(40.20 539.98) scale(0.900 1)" font-size="13.20" text-anchor="end" font-family='"Liberation Serif", serif' fill="#1a1a1a">20</text>
<text transform="translate(40.20 508.46) scale(0.900 1)" font-size="13.20" text-anchor="end" font-family='"Liberation Serif", serif' fill="#1a1a1a">40</text>
<text transform="translate(40.20 476.94) scale(0.900 1)" font-size="13.20" text-anchor="end" font-family='"Liberation Serif", serif' fill="#1a1a1a">60</text>
<text transform="translate(40.20 445.42) scale(0.900 1)" font-size="13.20" text-anchor="end" font-family='"Liberation Serif", serif' fill="#1a1a1a">80</text>
<text transform="translate(40.20 413.90) scale(0.900 1)" font-size="13.20" text-anchor="end" font-family='"Liberation Serif", serif' fill="#1a1a1a">100</text>
<polyline fill="none" stroke="#d6282a" stroke-width="1.25" points="76.24,498.92 120.92,504.59 165.60,504.59 210.28,506.64 254.96,506.64 299.64,503.64"/>
<polyline fill="none" stroke="#2172bb" stroke-width="1.25" points="76.24,482.68 120.92,487.73 165.60,484.58 210.28,487.41 254.96,484.58 299.64,486.62"/>
<circle cx="76.24" cy="498.92" r="5.7" fill="#ff0000"/>
<circle cx="120.92" cy="504.59" r="5.7" fill="#ff0000"/>
<circle cx="165.60" cy="504.59" r="5.7" fill="#ff0000"/>
<circle cx="210.28" cy="506.64" r="5.7" fill="#ff0000"/>
<circle cx="254.96" cy="506.64" r="5.7" fill="#ff0000"/>
<circle cx="299.64" cy="503.64" r="5.7" fill="#ff0000"/>
<circle cx="76.24" cy="482.68" r="5.7" fill="#0070c0"/>
<circle cx="120.92" cy="487.73" r="5.7" fill="#0070c0"/>
<circle cx="165.60" cy="484.58" r="5.7" fill="#0070c0"/>
<circle cx="210.28" cy="487.41" r="5.7" fill="#0070c0"/>
<circle cx="254.96" cy="484.58" r="5.7" fill="#0070c0"/>
<circle cx="299.64" cy="486.62" r="5.7" fill="#0070c0"/>
<line x1="64.10" y1="431.80" x2="91.70" y2="431.80" stroke="#d6282a" stroke-width="1.25"/>
<circle cx="77.90" cy="431.80" r="4" fill="#ff0000"/>
<text transform="translate(95.10 436.80) scale(0.880 1)" font-size="14.8" letter-spacing="0.7" font-family='"Liberation Serif", serif' fill="#111">GW1</text>
<line x1="133.00" y1="431.80" x2="160.60" y2="431.80" stroke="#2172bb" stroke-width="1.25"/>
<circle cx="146.80" cy="431.80" r="4" fill="#0070c0"/>
<text transform="translate(163.00 436.80) scale(0.880 1)" font-size="14.8" letter-spacing="0.7" font-family='"Liberation Serif", serif' fill="#111">GW2</text>
<rect x="383.00" y="408.30" width="270.50" height="159.30" fill="none" stroke="#1a1a1a" stroke-width="1.4"/>
<line x1="405.54" y1="567.60" x2="405.54" y2="564.40" stroke="#1a1a1a" stroke-width="1.1"/>
<line x1="428.08" y1="567.60" x2="428.08" y2="564.40" stroke="#1a1a1a" stroke-width="1.1"/>
<line x1="450.62" y1="567.60" x2="450.62" y2="564.40" stroke="#1a1a1a" stroke-width="1.1"/>
<line x1="473.16" y1="567.60" x2="473.16" y2="564.40" stroke="#1a1a1a" stroke-width="1.1"/>
<line x1="495.70" y1="567.60" x2="495.70" y2="564.40" stroke="#1a1a1a" stroke-width="1.1"/>
<line x1="518.24" y1="567.60" x2="518.24" y2="564.40" stroke="#1a1a1a" stroke-width="1.1"/>
<line x1="540.78" y1="567.60" x2="540.78" y2="564.40" stroke="#1a1a1a" stroke-width="1.1"/>
<line x1="563.32" y1="567.60" x2="563.32" y2="564.40" stroke="#1a1a1a" stroke-width="1.1"/>
<line x1="585.86" y1="567.60" x2="585.86" y2="564.40" stroke="#1a1a1a" stroke-width="1.1"/>
<line x1="608.40" y1="567.60" x2="608.40" y2="564.40" stroke="#1a1a1a" stroke-width="1.1"/>
<line x1="630.94" y1="567.60" x2="630.94" y2="564.40" stroke="#1a1a1a" stroke-width="1.1"/>
<line x1="383.00" y1="535.74" x2="386.20" y2="535.74" stroke="#1a1a1a" stroke-width="1.1"/>
<line x1="383.00" y1="503.88" x2="386.20" y2="503.88" stroke="#1a1a1a" stroke-width="1.1"/>
<line x1="383.00" y1="472.02" x2="386.20" y2="472.02" stroke="#1a1a1a" stroke-width="1.1"/>
<line x1="383.00" y1="440.16" x2="386.20" y2="440.16" stroke="#1a1a1a" stroke-width="1.1"/>
<text transform="translate(381.60 587.60) scale(0.900 1)" font-size="13.20" text-anchor="middle" font-family='"Liberation Serif", serif' fill="#1a1a1a">0</text>
<text transform="translate(404.14 587.60) scale(0.900 1)" font-size="13.20" text-anchor="middle" font-family='"Liberation Serif", serif' fill="#1a1a1a">2</text>
<text transform="translate(426.68 587.60) scale(0.900 1)" font-size="13.20" text-anchor="middle" font-family='"Liberation Serif", serif' fill="#1a1a1a">4</text>
<text transform="translate(449.22 587.60) scale(0.900 1)" font-size="13.20" text-anchor="middle" font-family='"Liberation Serif", serif' fill="#1a1a1a">6</text>
<text transform="translate(471.76 587.60) scale(0.900 1)" font-size="13.20" text-anchor="middle" font-family='"Liberation Serif", serif' fill="#1a1a1a">8</text>
<text transform="translate(495.10 587.60) scale(0.900 1)" font-size="13.20" text-anchor="middle" font-family='"Liberation Serif", serif' fill="#1a1a1a">10</text>
<text transform="translate(517.64 587.60) scale(0.900 1)" font-size="13.20" text-anchor="middle" font-family='"Liberation Serif", serif' fill="#1a1a1a">12</text>
<text transform="translate(540.18 587.60) scale(0.900 1)" font-size="13.20" text-anchor="middle" font-family='"Liberation Serif", serif' fill="#1a1a1a">14</text>
<text transform="translate(562.72 587.60) scale(0.900 1)" font-size="13.20" text-anchor="middle" font-family='"Liberation Serif", serif' fill="#1a1a1a">16</text>
<text transform="translate(585.26 587.60) scale(0.900 1)" font-size="13.20" text-anchor="middle" font-family='"Liberation Serif", serif' fill="#1a1a1a">18</text>
<text transform="translate(607.80 587.60) scale(0.900 1)" font-size="13.20" text-anchor="middle" font-family='"Liberation Serif", serif' fill="#1a1a1a">20</text>
<text transform="translate(630.34 587.60) scale(0.900 1)" font-size="13.20" text-anchor="middle" font-family='"Liberation Serif", serif' fill="#1a1a1a">22</text>
<text transform="translate(652.88 587.60) scale(0.900 1)" font-size="13.20" text-anchor="middle" font-family='"Liberation Serif", serif' fill="#1a1a1a">24</text>
<text transform="translate(369.30 572.10) scale(0.900 1)" font-size="13.20" text-anchor="end" font-family='"Liberation Serif", serif' fill="#1a1a1a">0</text>
<text transform="translate(369.30 540.24) scale(0.900 1)" font-size="13.20" text-anchor="end" font-family='"Liberation Serif", serif' fill="#1a1a1a">20</text>
<text transform="translate(369.30 508.38) scale(0.900 1)" font-size="13.20" text-anchor="end" font-family='"Liberation Serif", serif' fill="#1a1a1a">40</text>
<text transform="translate(369.30 476.52) scale(0.900 1)" font-size="13.20" text-anchor="end" font-family='"Liberation Serif", serif' fill="#1a1a1a">60</text>
<text transform="translate(369.30 444.66) scale(0.900 1)" font-size="13.20" text-anchor="end" font-family='"Liberation Serif", serif' fill="#1a1a1a">80</text>
<text transform="translate(369.30 412.80) scale(0.900 1)" font-size="13.20" text-anchor="end" font-family='"Liberation Serif", serif' fill="#1a1a1a">100</text>
<polyline fill="none" stroke="#d6282a" stroke-width="1.25" points="405.54,514.87 450.62,511.37 495.70,505.63 540.78,480.14 585.86,502.13 630.94,518.06"/>
<polyline fill="none" stroke="#2172bb" stroke-width="1.25" points="405.54,504.36 450.62,502.29 495.70,492.57 540.78,457.36 585.86,486.68 630.94,500.85"/>
<circle cx="405.54" cy="514.87" r="5.7" fill="#ff0000"/>
<circle cx="450.62" cy="511.37" r="5.7" fill="#ff0000"/>
<circle cx="495.70" cy="505.63" r="5.7" fill="#ff0000"/>
<circle cx="540.78" cy="480.14" r="5.7" fill="#ff0000"/>
<circle cx="585.86" cy="502.13" r="5.7" fill="#ff0000"/>
<circle cx="630.94" cy="518.06" r="5.7" fill="#ff0000"/>
<circle cx="405.54" cy="504.36" r="5.7" fill="#0070c0"/>
<circle cx="450.62" cy="502.29" r="5.7" fill="#0070c0"/>
<circle cx="495.70" cy="492.57" r="5.7" fill="#0070c0"/>
<circle cx="540.78" cy="457.36" r="5.7" fill="#0070c0"/>
<circle cx="585.86" cy="486.68" r="5.7" fill="#0070c0"/>
<circle cx="630.94" cy="500.85" r="5.7" fill="#0070c0"/>
<line x1="392.30" y1="430.50" x2="419.90" y2="430.50" stroke="#d6282a" stroke-width="1.25"/>
<circle cx="406.10" cy="430.50" r="4" fill="#ff0000"/>
<text transform="translate(423.20 435.50) scale(0.880 1)" font-size="14.8" letter-spacing="0.7" font-family='"Liberation Serif", serif' fill="#595959">GW1</text>
<line x1="461.10" y1="430.50" x2="488.70" y2="430.50" stroke="#2172bb" stroke-width="1.25"/>
<circle cx="474.90" cy="430.50" r="4" fill="#0070c0"/>
<text transform="translate(491.90 435.50) scale(0.880 1)" font-size="14.8" letter-spacing="0.7" font-family='"Liberation Serif", serif' fill="#595959">GW2</text>
<polygon fill="#000" points="547.48,46.31 539.05,68.69 536.06,67.56 538.50,78.10 547.29,71.79 544.29,70.66 552.72,48.29"/>
<polygon fill="#000" points="565.90,149.03 549.70,135.40 551.89,132.80 541.20,132.30 543.52,142.75 545.71,140.14 561.90,153.77"/>
<polygon fill="#000" points="551.59,416.59 542.89,439.07 540.00,437.95 542.40,448.10 551.01,442.21 548.11,441.09 556.81,418.61"/>
<polygon fill="#000" points="561.22,521.19 549.25,500.66 551.80,499.18 542.30,494.30 541.87,504.97 544.41,503.49 556.38,524.01"/>
<text x="187" y="15.1" font-size="17" text-anchor="middle" font-family='"Liberation Serif", serif' fill="#111">(a)</text>
<text x="515.7" y="12.7" font-size="17" text-anchor="middle" font-family='"Liberation Serif", serif' fill="#111">(b)</text>
<text transform="translate(14.00 107.05) rotate(-90)" font-size="14.15" text-anchor="middle" font-family='"Liberation Serif", serif' fill="#111">ER (mg CO<tspan font-size="9.5" dy="2">2</tspan><tspan dy="-2" dx="1.6"> m</tspan><tspan font-size="9.5" dy="-5">-2</tspan><tspan dy="5"> h</tspan><tspan font-size="9.5" dy="-5">-1</tspan><tspan dy="5">)</tspan></text>
<text transform="translate(341.20 107.30) rotate(-90)" font-size="14.15" text-anchor="middle" font-family='"Liberation Serif", serif' fill="#111">ER (mg CO<tspan font-size="9.5" dy="2">2</tspan><tspan dy="-2" dx="1.6"> m</tspan><tspan font-size="9.5" dy="-5">-2</tspan><tspan dy="5"> h</tspan><tspan font-size="9.5" dy="-5">-1</tspan><tspan dy="5">)</tspan></text>
<text transform="translate(19.80 301.80) rotate(-90)" font-size="14.05" text-anchor="middle" font-family='"Liberation Serif", serif' fill="#111">Ground Temperature <tspan dx="0.3">(</tspan><tspan font-size="9" dy="-4" dx="0.7">&#176;</tspan><tspan dy="4" dx="0.2">C</tspan><tspan dx="1.6">)</tspan></text>
<text transform="translate(344.00 301.10) rotate(-90)" font-size="14.05" text-anchor="middle" font-family='"Liberation Serif", serif' fill="#111">Ground Temperature <tspan dx="0.3">(</tspan><tspan font-size="9" dy="-4" dx="0.7">&#176;</tspan><tspan dy="4" dx="0.2">C</tspan><tspan dx="1.6">)</tspan></text>
<text transform="translate(19.30 489.00) rotate(-90)" font-size="14.35" text-anchor="middle" font-family='"Liberation Serif", serif' fill="#111">Soil moisture content (%)</text>
<text transform="translate(346.30 488.20) rotate(-90)" font-size="14.35" text-anchor="middle" font-family='"Liberation Serif", serif' fill="#111">Soil moisture content (%)</text>
<text transform="translate(164.00 606.1) scale(0.91 1)" font-size="14" font-family='"Liberation Serif", serif' fill="#111">Time</text>
<text transform="translate(196.80 606.1) scale(0.9 1)" font-size="14" font-family='"Liberation Serif", serif' fill="#111">(h)</text>
<text transform="translate(494.40 606.1) scale(0.91 1)" font-size="14" font-family='"Liberation Serif", serif' fill="#111">Time</text>
<text transform="translate(526.60 606.1) scale(0.9 1)" font-size="14" font-family='"Liberation Serif", serif' fill="#111">(h)</text>
</svg>
</body></html>
